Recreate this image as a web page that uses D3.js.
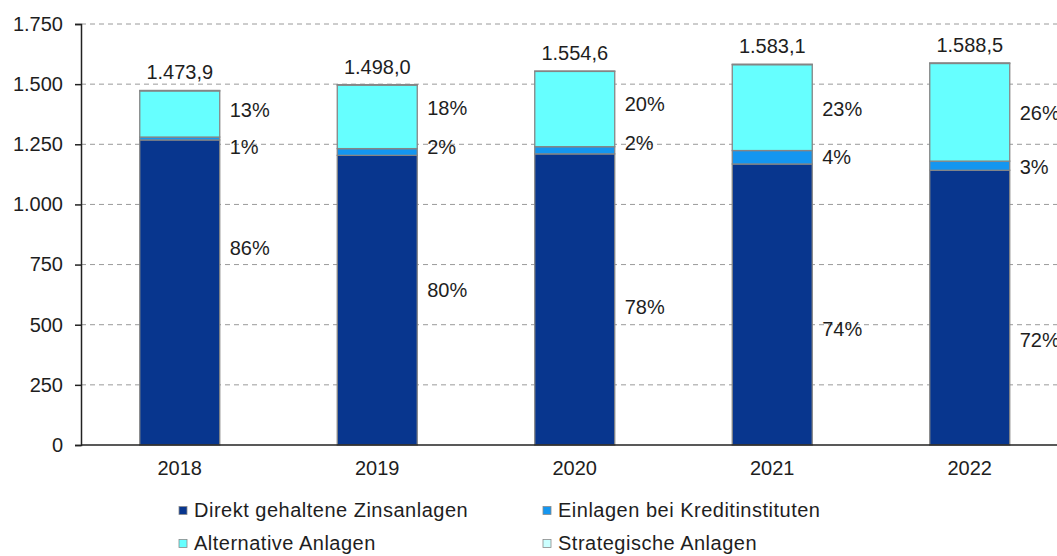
<!DOCTYPE html>
<html><head><meta charset="utf-8">
<script src="https://cdn.jsdelivr.net/npm/d3@7"></script>
<style>
html,body{margin:0;padding:0;background:#fff;}
svg{display:block;font-family:Arial,"Liberation Sans",sans-serif;}
</style></head>
<body><svg id="c" width="1057" height="556"></svg>
<script>
const years = ["2018","2019","2020","2021","2022"];
const direkt = [1268, 1204, 1210, 1168, 1142];
const einlagen = [12, 28, 30, 56, 38];
const alternative = [192, 264, 313, 357, 406];
const strategisch = [1.9, 2, 1.6, 2.1, 2.5];
const totals = [1473.9, 1498.0, 1554.6, 1583.1, 1588.5];
const pctDirekt = ["86%","80%","78%","74%","72%"];
const pctEinlagen = ["1%","2%","2%","4%","3%"];
const pctAlternative = ["13%","18%","20%","23%","26%"];
const yTicks = [0,250,500,750,1000,1250,1500,1750];
const seriesNames = ["Direkt gehaltene Zinsanlagen","Einlagen bei Kreditinstituten","Alternative Anlagen","Strategische Anlagen"];
const seriesColors = ["#08368e","#1496f0","#66ffff","#ccffff"];

// layout (not data): vertical anchors of the percent labels, in value units
const direktLabelAt = [820, 645, 575, 482, 436];
const einlagenLabelAt = [1239, 1239, 1255, 1197, 1155];
const alternativeLabelAt = [1392, 1401, 1417, 1397, 1380];

(function(){
const svg = d3.select("#c");
const mLeft = 81, mBottom = 445, mTop = 24;
const x = d3.scaleBand().domain(years).range([mLeft, mLeft + 5*197.5]).paddingInner(0.595).paddingOuter(0.2975);
const y = d3.scaleLinear().domain([0,1750]).range([mBottom, mTop]);
const fmtDE = d3.formatLocale({decimal:",", thousands:".", grouping:[3], currency:["","€"]});
const fTick = fmtDE.format(",.0f");
const fTot = fmtDE.format(",.1f");

// gridlines
svg.append("g").selectAll("line").data(yTicks.filter(d=>d>0)).join("line")
  .attr("x1", mLeft).attr("x2", 1057).attr("y1", d=>y(d)).attr("y2", d=>y(d))
  .attr("stroke", "#9a9a9a").attr("stroke-width", 1).attr("stroke-dasharray", "5,4");

// stacked bars
const rows = years.map((yr,i)=>({year:yr, d:direkt[i], e:einlagen[i], a:alternative[i], s:strategisch[i]}));
const stacked = d3.stack().keys(["d","e","a","s"])(rows);
const g = svg.append("g");
stacked.forEach((ser, k) => {
  g.append("g").selectAll("rect").data(ser).join("rect")
    .attr("x", d=>x(d.data.year)).attr("width", x.bandwidth())
    .attr("y", d=>y(d[1])).attr("height", d=>Math.max(0, y(d[0]) - y(d[1])))
    .attr("fill", seriesColors[k]).attr("stroke", "#858585").attr("stroke-width", 1.3);
});

// axes
const yAxis = d3.axisLeft(y).tickValues(yTicks).tickFormat(fTick).tickSize(6).tickPadding(12);
const ya = svg.append("g").attr("transform", `translate(${mLeft},0)`).call(yAxis);
ya.select(".domain").attr("stroke", "#222").attr("stroke-width", 1.5);
ya.selectAll(".tick line").attr("stroke", "#222").attr("stroke-width", 1.5);
ya.selectAll("text").attr("font-size", 20).attr("fill", "#1e1e1e").attr("font-family", "Arial, 'Liberation Sans', sans-serif");

svg.append("line").attr("x1", mLeft).attr("x2", 1057).attr("y1", mBottom).attr("y2", mBottom)
  .attr("stroke", "#222").attr("stroke-width", 1.5);

const xAxis = d3.axisBottom(x).tickSize(0).tickPadding(16);
const xa = svg.append("g").attr("transform", `translate(0,${mBottom})`).call(xAxis);
xa.select(".domain").remove();
xa.selectAll("text").attr("font-size", 20).attr("fill", "#1e1e1e").attr("font-family", "Arial, 'Liberation Sans', sans-serif");

// labels
const lab = svg.append("g").attr("font-size", 20).attr("fill", "#1e1e1e");
lab.selectAll("text.tot").data(rows).join("text").attr("class","tot")
  .attr("x", d=>x(d.year)+x.bandwidth()/2).attr("y", (d,i)=>y(totals[i]) - 11)
  .attr("text-anchor","middle").text((d,i)=>fTot(totals[i]));
const rx = d => x(d.year) + x.bandwidth() + 10;
lab.selectAll("text.pa").data(rows).join("text").attr("class","pa")
  .attr("x", rx).attr("y", (d,i)=>y(alternativeLabelAt[i])).attr("dy","0.35em")
  .text((d,i)=>pctAlternative[i]);
lab.selectAll("text.pe").data(rows).join("text").attr("class","pe")
  .attr("x", rx).attr("y", (d,i)=>y(einlagenLabelAt[i])).attr("dy","0.35em")
  .text((d,i)=>pctEinlagen[i]);
lab.selectAll("text.pd").data(rows).join("text").attr("class","pd")
  .attr("x", rx).attr("y", (d,i)=>y(direktLabelAt[i])).attr("dy","0.35em")
  .text((d,i)=>pctDirekt[i]);

// legend
const legPos = [[179,510],[543,510],[179,543],[543,543]];
const leg = svg.append("g").attr("font-size", 20).attr("fill", "#1e1e1e").attr("letter-spacing", "0.5px");
seriesNames.forEach((n,k)=>{
  const [lx,ly] = legPos[k];
  leg.append("rect").attr("x", lx).attr("y", ly-3.5).attr("width", 8).attr("height", 8)
    .attr("fill", seriesColors[k]).attr("stroke", "#8a8a8a").attr("stroke-width", 0.8);
  leg.append("text").attr("x", lx+15).attr("y", ly).attr("dy","0.35em").text(n);
});
})();
</script></body></html>
